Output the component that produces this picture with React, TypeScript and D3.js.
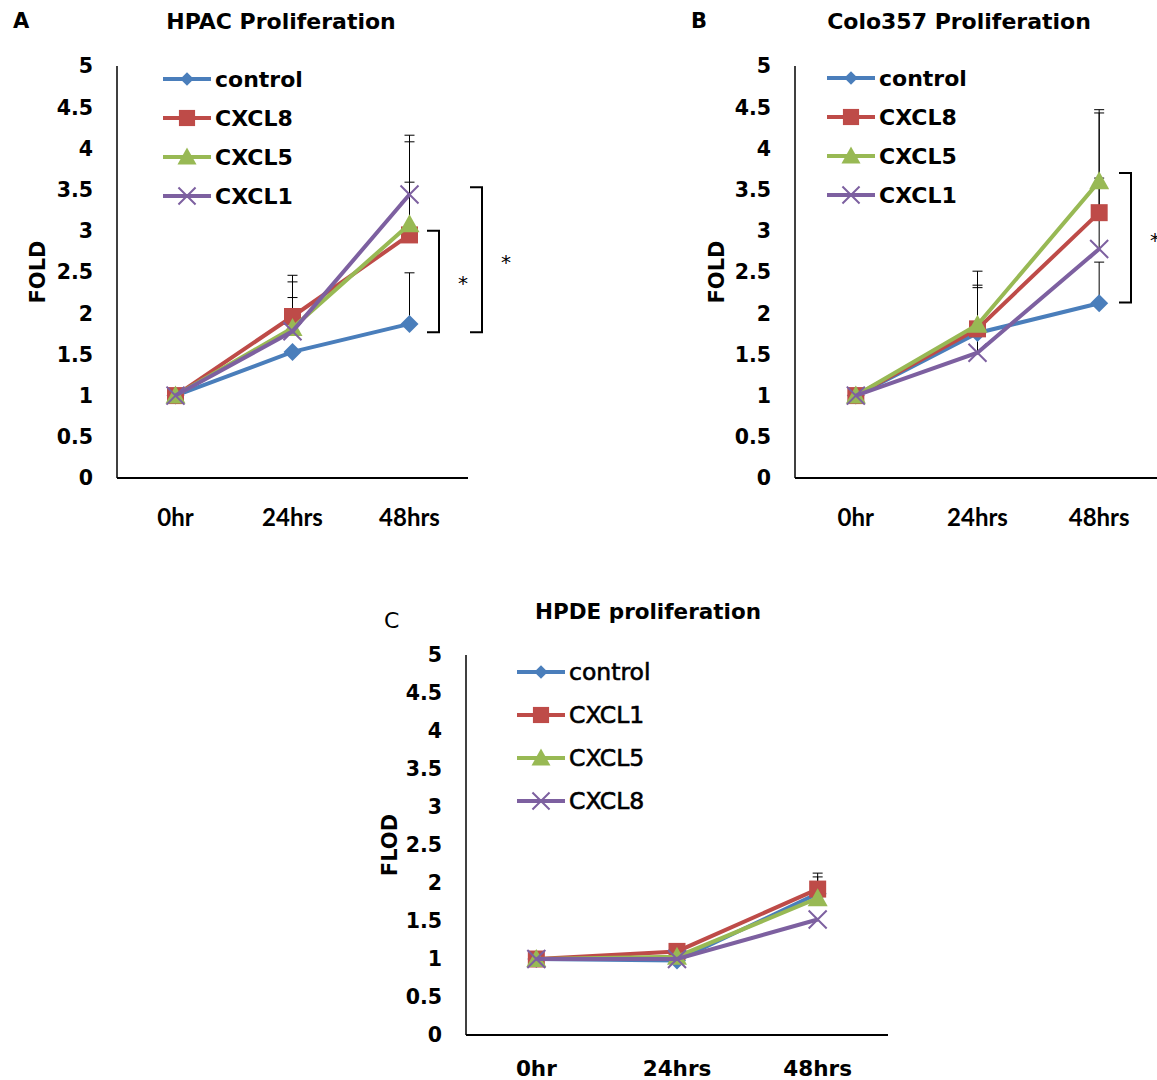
import React from "react";
import * as d3 from "d3";

// time points and y ticks shared by all three panels
const timepoints = ["0hr", "24hrs", "48hrs"];
const yTicks = [0, 0.5, 1, 1.5, 2, 2.5, 3, 3.5, 4, 4.5, 5];

// A: HPAC
const hpacControl = [1, 1.53, 1.87];
const hpacCXCL8 = [1, 1.96, 2.95];
const hpacCXCL5 = [1, 1.82, 3.08];
const hpacCXCL1 = [1, 1.78, 3.44];
const hpacControlErr = [0, 0, 0.62];
const hpacCXCL8Err = [0, 0.5, 1.13];
const hpacCXCL5Err = [0, 0.56, 0.51];
const hpacCXCL1Err = [0, 0.41, 0.72];

// B: Colo357
const coloControl = [1, 1.76, 2.12];
const coloCXCL8 = [1, 1.81, 3.22];
const coloCXCL5 = [1, 1.86, 3.6];
const coloCXCL1 = [1, 1.52, 2.78];
const coloControlErr = [0, 0, 0.5];
const coloCXCL8Err = [0, 0.53, 1.21];
const coloCXCL5Err = [0, 0.65, 0.87];
const coloCXCL1Err = [0, 0.79, 0.86];

// C: HPDE
const hpdeControl = [1, 0.98, 1.86];
const hpdeCXCL1 = [1, 1.1, 1.92];
const hpdeCXCL5 = [1, 1.03, 1.8];
const hpdeCXCL8 = [1, 1.0, 1.52];
const hpdeCXCL1Err = [0, 0, 0.21];
const hpdeCXCL5Err = [0, 0, 0.28];

const BLUE = "#4a7ebb";
const RED = "#be4b48";
const GREEN = "#98b954";
const PURPLE = "#7d60a0";
const FONT = "'DejaVu Sans', sans-serif";
const CALIBRI = "Lato, 'Open Sans', sans-serif";

type Series = { name: string; values: number[]; err: number[]; color: string; marker: string };

const Marker = ({ type, x, y, color, s = 1 }) => {
  if (type === "diamond") {
    const r = 9 * s;
    return <path d={`M${x},${y - r}L${x + r},${y}L${x},${y + r}L${x - r},${y}Z`} fill={color} />;
  }
  if (type === "square") {
    const r = 8.5 * s;
    return <rect x={x - r} y={y - r} width={2 * r} height={2 * r} fill={color} />;
  }
  if (type === "triangle") {
    const r = 10 * s;
    return <path d={`M${x},${y - r}L${x + r},${y + r * 0.8}L${x - r},${y + r * 0.8}Z`} fill={color} />;
  }
  const r = 9 * s;
  return (
    <path d={`M${x - r},${y - r}L${x + r},${y + r}M${x + r},${y - r}L${x - r},${y + r}`}
      stroke={color} strokeWidth={2} fill="none" />
  );
};

const Panel = ({ x0, x1, yTop, yBottom, series, legend, legendBold = true, brackets, xFont, xSize, xGap }) => {
  const x = d3.scaleBand().domain(timepoints).range([x0, x1]);
  const cx = (t) => x(t) + x.bandwidth() / 2;
  const y = d3.scaleLinear().domain([0, 5]).range([yBottom, yTop]);
  const line = d3.line<number>().x((_, i) => cx(timepoints[i])).y((d) => y(d));
  const fmt = d3.format("~g");

  return (
    <g>
      <line x1={x0} x2={x0} y1={yTop} y2={yBottom} stroke="#000" strokeWidth={1.5} />
      <line x1={x0} x2={x1} y1={yBottom} y2={yBottom} stroke="#000" strokeWidth={2} />
      {yTicks.map((t) => (
        <text key={t} x={x0 - 24} y={y(t)} dy="0.36em" textAnchor="end"
          fontFamily={FONT} fontWeight="bold" fontSize={20.5}>{fmt(t)}</text>
      ))}
      {timepoints.map((t) => (
        <text key={t} x={cx(t)} y={yBottom + xGap} dy="0.36em" textAnchor="middle"
          fontFamily={xFont} fontWeight="bold" fontSize={xSize}>{t}</text>
      ))}
      {/* error bars (upper only) */}
      {series.map((s) =>
        s.values.map((v, i) =>
          s.err[i] > 0 ? (
            <g key={s.name + i} stroke="#000" strokeWidth={1}>
              <line x1={cx(timepoints[i])} x2={cx(timepoints[i])} y1={y(v)} y2={y(v + s.err[i])} />
              <line x1={cx(timepoints[i]) - 5} x2={cx(timepoints[i]) + 5} y1={y(v + s.err[i])} y2={y(v + s.err[i])} />
            </g>
          ) : null
        )
      )}
      {series.map((s) => (
        <g key={s.name}>
          <path d={line(s.values)} fill="none" stroke={s.color} strokeWidth={4} />
          {s.values.map((v, i) => (
            <Marker key={i} type={s.marker} x={cx(timepoints[i])} y={y(v)} color={s.color} />
          ))}
        </g>
      ))}
      {series.map((s, i) => {
        const ly = legend.y + i * legend.step;
        return (
          <g key={"lg" + s.name}>
            <line x1={legend.x} x2={legend.x + 48} y1={ly} y2={ly} stroke={s.color} strokeWidth={4} />
            <Marker type={s.marker} x={legend.x + 24} y={ly} color={s.color} s={s.marker === "diamond" ? 0.75 : 0.95} />
            <text x={legend.x + 52} y={ly} dy="0.36em" fontFamily={FONT}
              fontWeight={legendBold ? "bold" : "normal"} stroke={legendBold ? "none" : "#000"} strokeWidth={0.6}
              fontSize={legendBold ? 22 : 23.5}>{s.name}</text>
          </g>
        );
      })}
      {brackets.map((b, i) => (
        <g key={"br" + i}>
          <path d={`M${b.x - 12},${y(b.hi)}H${b.x}V${y(b.lo)}H${b.x - 12}`} fill="none" stroke="#000" strokeWidth={2} />
          <text x={b.x + 24} y={(y(b.hi) + y(b.lo)) / 2 + 9} textAnchor="middle" fontFamily={FONT} fontSize={20}>*</text>
        </g>
      ))}
    </g>
  );
};

const App = () => {
  const hpac: Series[] = [
    { name: "control", values: hpacControl, err: hpacControlErr, color: BLUE, marker: "diamond" },
    { name: "CXCL8", values: hpacCXCL8, err: hpacCXCL8Err, color: RED, marker: "square" },
    { name: "CXCL5", values: hpacCXCL5, err: hpacCXCL5Err, color: GREEN, marker: "triangle" },
    { name: "CXCL1", values: hpacCXCL1, err: hpacCXCL1Err, color: PURPLE, marker: "x" },
  ];
  const colo: Series[] = [
    { name: "control", values: coloControl, err: coloControlErr, color: BLUE, marker: "diamond" },
    { name: "CXCL8", values: coloCXCL8, err: coloCXCL8Err, color: RED, marker: "square" },
    { name: "CXCL5", values: coloCXCL5, err: coloCXCL5Err, color: GREEN, marker: "triangle" },
    { name: "CXCL1", values: coloCXCL1, err: coloCXCL1Err, color: PURPLE, marker: "x" },
  ];
  const hpde: Series[] = [
    { name: "control", values: hpdeControl, err: [0, 0, 0], color: BLUE, marker: "diamond" },
    { name: "CXCL1", values: hpdeCXCL1, err: hpdeCXCL1Err, color: RED, marker: "square" },
    { name: "CXCL5", values: hpdeCXCL5, err: hpdeCXCL5Err, color: GREEN, marker: "triangle" },
    { name: "CXCL8", values: hpdeCXCL8, err: [0, 0, 0], color: PURPLE, marker: "x" },
  ];

  return (
    <svg width={1157} height={1080} style={{ position: "absolute", left: 0, top: 0, background: "#fff" }}>
      <rect width={1157} height={1080} fill="#fff" />
      {/* panel A */}
      <text x={13} y={28} fontFamily={FONT} fontWeight="bold" fontSize={21}>A</text>
      <text x={281} y={29} textAnchor="middle" fontFamily={FONT} fontWeight="bold" fontSize={22}>HPAC Proliferation</text>
      <text transform="translate(45,272) rotate(-90)" textAnchor="middle" fontFamily={FONT} fontWeight="bold" fontSize={21}>FOLD</text>
      <Panel x0={117} x1={468} yTop={66} yBottom={478} series={hpac}
        legend={{ x: 163, y: 79, step: 39 }} xFont={CALIBRI} xSize={24} xGap={39}
        brackets={[{ x: 439, hi: 3.0, lo: 1.77 }, { x: 482, hi: 3.53, lo: 1.77 }]} />
      {/* panel B */}
      <text x={691} y={28} fontFamily={FONT} fontWeight="bold" fontSize={21}>B</text>
      <text x={959} y={29} textAnchor="middle" fontFamily={FONT} fontWeight="bold" fontSize={22}>Colo357 Proliferation</text>
      <text transform="translate(724,272) rotate(-90)" textAnchor="middle" fontFamily={FONT} fontWeight="bold" fontSize={21}>FOLD</text>
      <Panel x0={795} x1={1160} yTop={66} yBottom={478} series={colo}
        legend={{ x: 827, y: 78, step: 39 }} xFont={CALIBRI} xSize={24} xGap={39}
        brackets={[{ x: 1131, hi: 3.7, lo: 2.13 }]} />
      {/* panel C */}
      <text x={384} y={628} fontFamily={FONT} fontSize={22}>C</text>
      <text x={648} y={619} textAnchor="middle" fontFamily={FONT} fontWeight="bold" fontSize={21.5}>HPDE proliferation</text>
      <text transform="translate(397,845) rotate(-90)" textAnchor="middle" fontFamily={FONT} fontWeight="bold" fontSize={21}>FLOD</text>
      <Panel x0={466} x1={888} yTop={655} yBottom={1035} series={hpde}
        legend={{ x: 517, y: 672, step: 43 }} legendBold={false} xFont={FONT} xSize={21.5} xGap={33}
        brackets={[]} />
    </svg>
  );
};

export default App;
